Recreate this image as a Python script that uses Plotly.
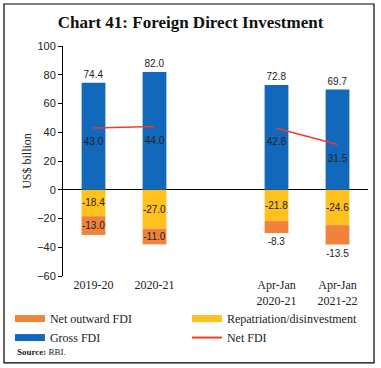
import plotly.graph_objects as go

categories = ["2019-20", "2020-21", " ", "Apr-Jan<br>2020-21", "Apr-Jan<br>2021-22"]
gross_fdi = [74.4, 82.0, None, 72.8, 69.7]
repatriation = [-18.4, -27.0, None, -21.8, -24.6]
net_outward = [-13.0, -11.0, None, -8.3, -13.5]
net_fdi = [43.0, 44.0, None, 42.8, 31.5]
y_ticks = [100, 80, 60, 40, 20, 0, -20, -40, -60]

BLUE = "#1268BA"
YELLOW = "#FFC11E"
ORANGE = "#F0823C"
RED = "#F03C28"
TXT = "#222222"
SANS = "Liberation Sans"
SERIF = "Liberation Serif"

def fmt(v):
    return "" if v is None else f"{v:.1f}"

fig = go.Figure()
fig.add_trace(go.Bar(
    x=categories, y=repatriation, name="Repatriation/disinvestment",
    marker=dict(color=YELLOW, line=dict(width=0)),
    text=[fmt(v) for v in repatriation], textposition="inside",
    insidetextanchor="middle", textangle=0, constraintext="none",
    textfont=dict(family=SANS, size=10, color=TXT), showlegend=False,
))
fig.add_trace(go.Bar(
    x=categories, y=net_outward, name="Net outward FDI",
    marker=dict(color=ORANGE, line=dict(width=0)),
    text=[fmt(v) for v in net_outward],
    textposition=["inside", "inside", "inside", "outside", "outside"],
    insidetextanchor="middle", textangle=0, cliponaxis=False, constraintext="none",
    textfont=dict(family=SANS, size=10, color=TXT), showlegend=False,
))
fig.add_trace(go.Bar(
    x=categories, y=gross_fdi, name="Gross FDI",
    marker=dict(color=BLUE, line=dict(width=0)),
    text=[fmt(v) for v in gross_fdi], textposition="outside", textangle=0,
    cliponaxis=False, constraintext="none",
    textfont=dict(family=SANS, size=10, color=TXT), showlegend=False,
))
fig.add_trace(go.Scatter(
    x=categories, y=net_fdi, name="Net FDI", mode="lines+markers+text",
    line=dict(color=RED, width=1.5), connectgaps=False,
    marker=dict(size=14, opacity=0, color=RED),
    text=[fmt(v) for v in net_fdi], textposition="bottom center",
    textfont=dict(family=SANS, size=10, color=TXT), showlegend=False,
))

# legend-only entries (wide swatches like the reference)
legend_items = [("Net outward FDI", ORANGE, 7), ("Repatriation/disinvestment", YELLOW, 7),
                ("Gross FDI", BLUE, 7), ("Net FDI", RED, 2)]
for name, color, w in legend_items:
    fig.add_trace(go.Scatter(x=[None], y=[None], mode="lines", name=name,
                             line=dict(color=color, width=w), showlegend=True))

fig.update_layout(
    width=381, height=368,
    margin=dict(l=63, r=13, t=46, b=92, autoexpand=False),
    paper_bgcolor="white", plot_bgcolor="white",
    barmode="relative", bargap=0.61,
    title=dict(text="<b>Chart 41: Foreign Direct Investment</b>",
               x=0.5, xanchor="center", y=0.94, yanchor="middle",
               font=dict(family=SERIF, size=17, color="#111")),
    showlegend=True,
    legend=dict(orientation="h", x=-0.174, xanchor="left", y=-0.122, yanchor="top",
                entrywidth=132, entrywidthmode="pixels", traceorder="normal",
                font=dict(family=SERIF, size=12, color=TXT),
                itemwidth=30, tracegroupgap=0, bgcolor="rgba(0,0,0,0)"),
    font=dict(family=SERIF, color=TXT),
)
fig.update_xaxes(
    type="category", categoryorder="array", categoryarray=categories,
    showline=False, ticks="", showgrid=False, zeroline=False,
    tickfont=dict(family=SERIF, size=12, color=TXT),
)
fig.update_yaxes(
    range=[-60, 100], tickvals=y_ticks, ticks="outside", ticklen=4,
    tickcolor="black", showline=True, linecolor="black", linewidth=1,
    showgrid=False, zeroline=True, zerolinecolor="black", zerolinewidth=1,
    tickfont=dict(family=SANS, size=11, color=TXT),
    title=dict(text="US$ billion", font=dict(family=SERIF, size=12, color=TXT), standoff=2),
)
fig.add_annotation(
    text="<b>Source:</b> RBI.", xref="paper", yref="paper", x=-0.157, y=-0.33,
    xanchor="left", yanchor="middle", showarrow=False,
    font=dict(family=SERIF, size=9, color=TXT),
)
fig.add_shape(type="rect", xref="paper", yref="paper",
              x0=-0.1934, x1=1.0197, y0=-0.378, y1=1.1826,
              line=dict(color="black", width=1.2), fillcolor="rgba(0,0,0,0)")
fig.write_html("out.html", config={"displayModeBar": False},
               post_script="document.body.style.margin='0';document.body.style.padding='0';")
